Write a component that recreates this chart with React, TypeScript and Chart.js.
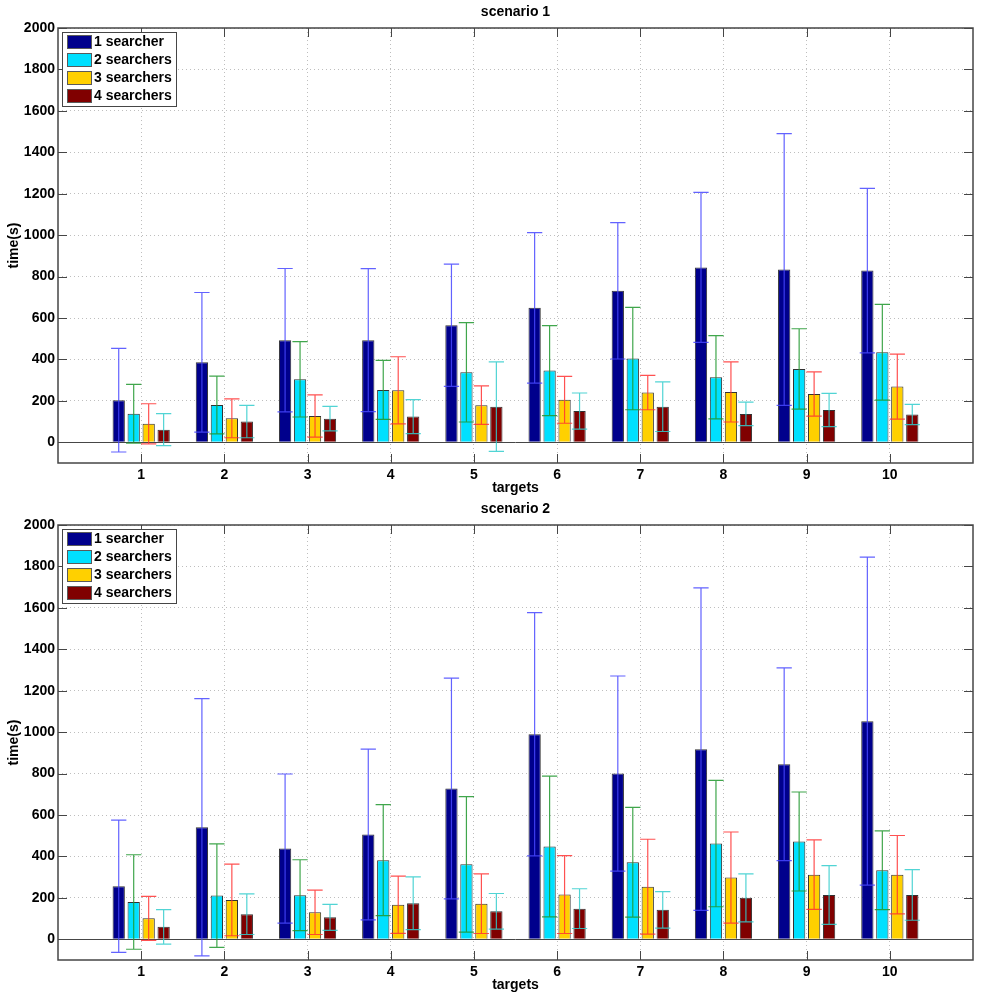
import React, { useEffect, useRef } from "react";
import { Chart, registerables } from "chart.js";

Chart.register(...registerables);

const FONT = '"Liberation Sans", Arial, Helvetica, sans-serif';

const targets = [1, 2, 3, 4, 5, 6, 7, 8, 9, 10];
const yTicks = [0, 200, 400, 600, 800, 1000, 1200, 1400, 1600, 1800, 2000];
const seriesNames = ["1 searcher", "2 searchers", "3 searchers", "4 searchers"];

const barColors = ["rgb(0,0,140)", "rgb(0,224,255)", "rgb(255,208,0)", "rgb(128,0,0)"];
const errColors = [
  "rgba(70,70,255,0.85)",
  "rgba(30,150,45,0.85)",
  "rgba(255,50,50,0.85)",
  "rgba(50,205,205,0.85)",
];

// scenario 1: mean time and error (half length of bar)
const sc1Mean1 = [203, 386, 493, 493, 565, 649, 731, 844, 834, 829];
const sc1Mean2 = [138, 180, 304, 253, 338, 346, 404, 314, 354, 435];
const sc1Mean3 = [89, 116, 127, 251, 179, 205, 240, 243, 233, 269];
const sc1Mean4 = [61, 100, 114, 124, 172, 151, 172, 137, 156, 134];
const sc1Err1 = [250, 337, 346, 345, 295, 363, 329, 362, 656, 397];
const sc1Err2 = [142, 139, 182, 142, 240, 217, 247, 201, 194, 231];
const sc1Err3 = [97, 94, 102, 162, 93, 113, 83, 145, 107, 157];
const sc1Err4 = [77, 78, 59, 82, 216, 87, 120, 57, 80, 49];

// scenario 2
const sc2Mean1 = [256, 541, 438, 506, 728, 990, 800, 918, 845, 1053];
const sc2Mean2 = [180, 211, 213, 382, 362, 448, 372, 462, 472, 333];
const sc2Mean3 = [101, 190, 130, 167, 172, 216, 254, 298, 312, 312];
const sc2Mean4 = [60, 121, 106, 174, 135, 148, 142, 200, 214, 214];
const sc2Err1 = [319, 621, 360, 412, 533, 587, 471, 778, 465, 792];
const sc2Err2 = [228, 250, 171, 268, 327, 340, 265, 305, 239, 190];
const sc2Err3 = [106, 173, 107, 138, 144, 188, 229, 220, 168, 189];
const sc2Err4 = [83, 98, 63, 127, 86, 96, 88, 116, 142, 122];

const axisColor = "rgb(70,70,70)";
const gridColor = "rgb(190,190,190)";

type Props = {
  title: string;
  means: number[][];
  errs: number[][];
  top: number;
  height: number;
};

const ScenarioChart: React.FC<Props> = ({ title, means, errs, top, height }) => {
  const canvasRef = useRef<HTMLCanvasElement>(null);

  useEffect(() => {
    if (!canvasRef.current) return;
    const ctx = canvasRef.current.getContext("2d");
    if (!ctx) return;

    const xAxisHeight = height - 28 - 435;

    const matlabPlugin = {
      id: "matlabFrame",
      afterDatasetsDraw(chart: any) {
        const c = chart.ctx;
        const y = chart.scales.y;
        c.save();
        // zero baseline
        c.strokeStyle = axisColor;
        c.lineWidth = 1;
        const y0 = Math.round(y.getPixelForValue(0)) + 0.5;
        c.beginPath();
        c.moveTo(chart.chartArea.left, y0);
        c.lineTo(chart.chartArea.right, y0);
        c.stroke();
        // error bars
        means.forEach((m, d) => {
          const meta = chart.getDatasetMeta(d);
          c.strokeStyle = errColors[d];
          c.lineWidth = 1.2;
          meta.data.forEach((el: any, i: number) => {
            const hi = y.getPixelForValue(m[i] + errs[d][i]);
            const lo = y.getPixelForValue(m[i] - errs[d][i]);
            const half = el.width / 2 + 1.5;
            c.beginPath();
            c.moveTo(el.x, hi);
            c.lineTo(el.x, lo);
            c.moveTo(el.x - half, hi);
            c.lineTo(el.x + half, hi);
            c.moveTo(el.x - half, lo);
            c.lineTo(el.x + half, lo);
            c.stroke();
          });
        });
        c.restore();
      },
      afterDraw(chart: any) {
        const c = chart.ctx;
        const { left, right, top: t, bottom } = chart.chartArea;
        const x = chart.scales.x;
        const y = chart.scales.y;
        c.save();
        // box + inner ticks
        c.strokeStyle = axisColor;
        c.lineWidth = 1.5;
        c.strokeRect(left, t, right - left, bottom - t);
        c.lineWidth = 1;
        c.beginPath();
        targets.forEach((v) => {
          const px = Math.round(x.getPixelForValue(v)) + 0.5;
          c.moveTo(px, bottom);
          c.lineTo(px, bottom - 9);
          c.moveTo(px, t);
          c.lineTo(px, t + 9);
        });
        yTicks.forEach((v) => {
          const py = Math.round(y.getPixelForValue(v)) + 0.5;
          c.moveTo(left, py);
          c.lineTo(left + 9, py);
          c.moveTo(right, py);
          c.lineTo(right - 9, py);
        });
        c.stroke();

        // titles
        c.fillStyle = "#000";
        c.font = `bold 14px ${FONT}`;
        c.textAlign = "center";
        c.textBaseline = "middle";
        const cx = (left + right) / 2;
        c.fillText(title, cx, 12);
        c.fillText("targets", cx, 488);
        c.save();
        c.translate(14, (t + bottom) / 2);
        c.rotate(-Math.PI / 2);
        c.fillText("time(s)", 0, 0);
        c.restore();

        // legend
        const lx = 62.5;
        const ly = 32.5;
        c.fillStyle = "#fff";
        c.fillRect(lx, ly, 114, 74);
        c.strokeStyle = axisColor;
        c.lineWidth = 1;
        c.strokeRect(lx, ly, 114, 74);
        c.textAlign = "left";
        seriesNames.forEach((name, i) => {
          const ry = 35.5 + i * 18;
          c.fillStyle = barColors[i];
          c.fillRect(67.5, ry, 24, 13);
          c.strokeStyle = "rgb(90,90,90)";
          c.strokeRect(67.5, ry, 24, 13);
          c.fillStyle = "#000";
          c.fillText(name, 94, ry + 7);
        });
        c.restore();
      },
    };

    const tickFont = { family: FONT, size: 14, weight: "bold" as const };

    const chart = new Chart(ctx, {
      type: "bar",
      data: {
        labels: targets,
        datasets: seriesNames.map((name, d) => ({
          label: name,
          data: means[d],
          backgroundColor: barColors[d],
          borderColor: "rgb(50,50,50)",
          borderWidth: 1,
          categoryPercentage: 0.72,
          barPercentage: 0.82,
        })),
      },
      options: {
        responsive: false,
        animation: false,
        events: [],
        layout: { padding: { top: 28, right: 8, left: 0, bottom: 0 } },
        plugins: {
          legend: { display: false },
          tooltip: { enabled: false },
          title: { display: false },
        },
        scales: {
          x: {
            type: "linear",
            min: 0,
            max: 11,
            offset: false,
            afterBuildTicks: (s: any) => {
              s.ticks = targets.map((v) => ({ value: v }));
            },
            afterFit: (s: any) => {
              s.height = xAxisHeight;
            },
            grid: { color: gridColor, drawTicks: false, offset: false, lineWidth: 1 },
            border: { display: false, dash: [1, 3] },
            ticks: {
              padding: 4,
              color: "#000",
              font: tickFont,
              autoSkip: false,
              maxRotation: 0,
              callback: (v: any) => String(v),
            },
          },
          y: {
            min: -100,
            max: 2000,
            afterBuildTicks: (s: any) => {
              s.ticks = yTicks.map((v) => ({ value: v }));
            },
            afterFit: (s: any) => {
              s.width = 58;
            },
            grid: { color: gridColor, drawTicks: false, lineWidth: 1 },
            border: { display: false, dash: [1, 3] },
            ticks: {
              padding: 3,
              color: "#000",
              font: tickFont,
              callback: (v: any) => String(v),
            },
          },
        },
      },
      plugins: [matlabPlugin],
    } as any);

    return () => {
      chart.destroy();
    };
  }, [title, means, errs, height]);

  return (
    <canvas
      ref={canvasRef}
      width={981}
      height={height}
      style={{ position: "absolute", left: 0, top, width: 981, height }}
    />
  );
};

const App: React.FC = () => {
  return (
    <div
      style={{
        position: "absolute",
        left: 0,
        top: 0,
        width: 981,
        height: 1000,
        background: "#fff",
      }}
    >
      <ScenarioChart
        title="scenario 1"
        means={[sc1Mean1, sc1Mean2, sc1Mean3, sc1Mean4]}
        errs={[sc1Err1, sc1Err2, sc1Err3, sc1Err4]}
        top={0}
        height={497}
      />
      <ScenarioChart
        title="scenario 2"
        means={[sc2Mean1, sc2Mean2, sc2Mean3, sc2Mean4]}
        errs={[sc2Err1, sc2Err2, sc2Err3, sc2Err4]}
        top={497}
        height={503}
      />
    </div>
  );
};

export default App;
